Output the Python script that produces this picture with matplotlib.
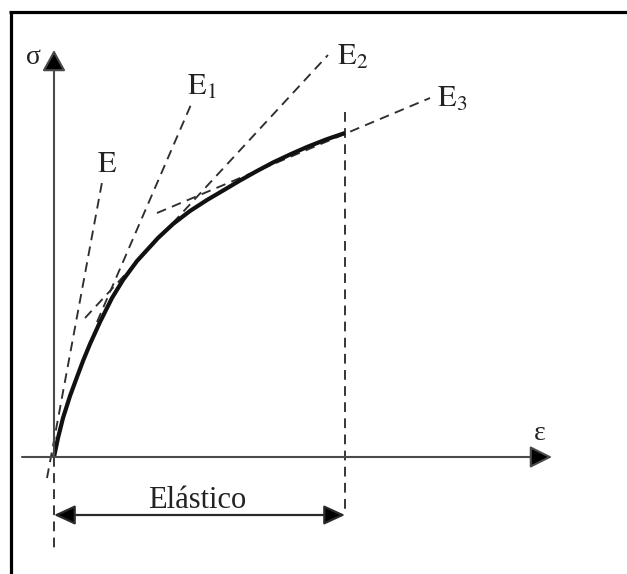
import matplotlib
matplotlib.use("Agg")
import matplotlib.pyplot as plt
from matplotlib.lines import Line2D

plt.rcParams['font.family'] = ['Liberation Serif', 'DejaVu Serif']
plt.rcParams['mathtext.fontset'] = 'stix'

# Stress-strain curve (strain, stress) in drawing units
strain = [0, 4, 9, 16, 23, 29, 36, 46, 58, 69, 83, 104, 119, 136, 153,
          170, 186, 203, 219, 236, 253, 272, 291]
stress = [0, 19, 39, 61, 80, 96, 113, 135, 159, 177, 196, 219, 233, 246,
          257, 267, 276.5, 286, 294.5, 302.5, 310, 317.5, 324]

# Modulus lines: (start strain, start stress, end strain, end stress)
modulus_names = ['E', 'E_1', 'E_2', 'E_3']
modulus_lines = [
    (-7, -21, 49, 280),
    (43, 135, 139, 357),
    (31, 139, 274, 402),
    (103, 244, 376, 359),
]
modulus_label_pos = [(43, 285), (133, 362), (283, 392), (383, 350)]

elastic_limit = 291          # strain at end of elastic range
region_label = 'Elástico'

fig = plt.figure(figsize=(6.27, 5.74), dpi=100)
ax = fig.add_axes([0, 0, 1, 1])
ax.set_xlim(-54, 573)
ax.set_ylim(-117, 457)
ax.axis('off')

axis_col = '#4a4a4a'
dash_col = '#2e2e2e'
dash_lw = 1.35
dash = (0, (5.2, 3.4))

# outer frame (top and left edges)
ax.add_line(Line2D([-43.5, -43.5], [446, -117], color='black', lw=2.3,
                   solid_capstyle='butt'))
ax.add_line(Line2D([-45.5, 573], [445, 445], color='black', lw=2.3,
                   solid_capstyle='butt'))

# coordinate axes with arrow heads
arrow_kw = dict(arrowstyle='-|>,head_length=0.68,head_width=0.34',
                mutation_scale=20, lw=1.5, color=axis_col, fc='black',
                shrinkA=0, shrinkB=0)
ax.annotate('', xy=(498, 0), xytext=(-32, 0), arrowprops=arrow_kw)
ax.annotate('', xy=(0, 407), xytext=(0, 0),
            arrowprops=dict(arrow_kw, arrowstyle='-|>,head_length=0.65,head_width=0.36'))

ax.text(-21, 399, 'σ', fontsize=20, ha='center', va='center', color='#222')
ax.text(486, 24, 'ε', fontsize=20, ha='center', va='center', color='#222')

# dashed modulus lines
for (x0, y0, x1, y1) in modulus_lines:
    ax.plot([x0, x1], [y0, y1], color=dash_col, lw=dash_lw, linestyle=dash,
            dash_capstyle='butt')

for name, (lx, ly) in zip(modulus_names, modulus_label_pos):
    sub = name.split('_')
    txt = r'$\mathrm{E}$' if len(sub) == 1 else r'$\mathrm{E}_{%s}$' % sub[1]
    ax.text(lx, ly, txt, fontsize=22, ha='left', va='baseline', color='#222')

# vertical dashed markers for the elastic range
ax.plot([0, 0], [0, -95], color=dash_col, lw=dash_lw, linestyle=dash)
ax.plot([elastic_limit, elastic_limit], [345, -58], color=dash_col,
        lw=dash_lw, linestyle=dash)

# the curve
ax.plot(strain, stress, color='#111111', lw=3.0, solid_capstyle='butt',
        solid_joinstyle='round')

# elastic range dimension arrow
ax.annotate('', xy=(elastic_limit, -58), xytext=(0, -58),
            arrowprops=dict(arrowstyle='<|-|>,head_length=0.65,head_width=0.3',
                            mutation_scale=20, lw=1.6, color='#2a2a2a',
                            fc='black', shrinkA=0, shrinkB=0))
ax.text(143, -51, region_label, fontsize=22, ha='center', va='baseline',
        color='#222')

fig.savefig('out.png', dpi=100)
